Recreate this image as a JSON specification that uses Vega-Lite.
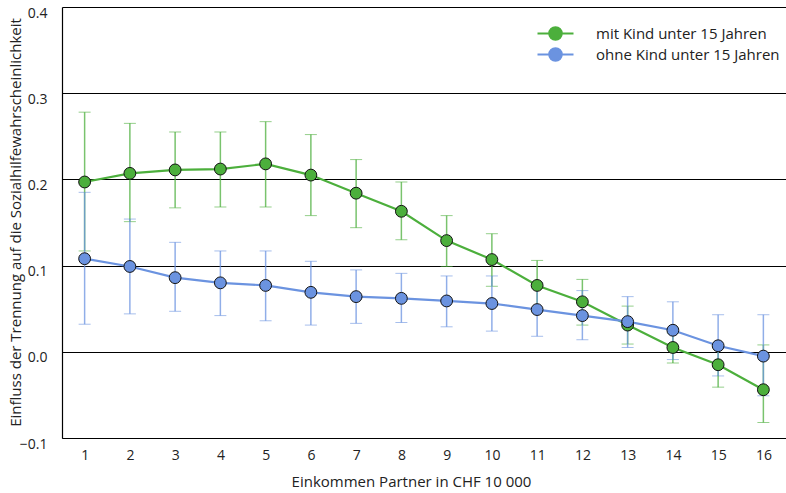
{
  "$schema": "https://vega.github.io/schema/vega-lite/v6.json",
  "width": 724,
  "height": 431,
  "autosize": {"type": "none"},
  "padding": {"left": 62, "top": 7, "right": 0, "bottom": 55},
  "background": "white",
  "config": {
    "font": "Open Sans",
    "view": {"stroke": null},
    "axis": {"labelFont": "Open Sans", "titleFont": "Open Sans", "labelFontSize": 14, "titleFontSize": 15, "labelColor": "#222", "titleColor": "#222", "titleFontWeight": "normal", "ticks": false, "domainColor": "#000", "domainWidth": 1.2}
  },
  "data": {
    "values": [
      {"x": 1, "g": "mit Kind unter 15 Jahren", "lo": 0.117, "y": 0.197, "hi": 0.278},
      {"x": 2, "g": "mit Kind unter 15 Jahren", "lo": 0.151, "y": 0.207, "hi": 0.265},
      {"x": 3, "g": "mit Kind unter 15 Jahren", "lo": 0.167, "y": 0.211, "hi": 0.255},
      {"x": 4, "g": "mit Kind unter 15 Jahren", "lo": 0.168, "y": 0.212, "hi": 0.255},
      {"x": 5, "g": "mit Kind unter 15 Jahren", "lo": 0.168, "y": 0.218, "hi": 0.267},
      {"x": 6, "g": "mit Kind unter 15 Jahren", "lo": 0.158, "y": 0.205, "hi": 0.252},
      {"x": 7, "g": "mit Kind unter 15 Jahren", "lo": 0.144, "y": 0.184, "hi": 0.223},
      {"x": 8, "g": "mit Kind unter 15 Jahren", "lo": 0.130, "y": 0.163, "hi": 0.197},
      {"x": 9, "g": "mit Kind unter 15 Jahren", "lo": 0.099, "y": 0.129, "hi": 0.158},
      {"x": 10, "g": "mit Kind unter 15 Jahren", "lo": 0.076, "y": 0.107, "hi": 0.137},
      {"x": 11, "g": "mit Kind unter 15 Jahren", "lo": 0.047, "y": 0.077, "hi": 0.106},
      {"x": 12, "g": "mit Kind unter 15 Jahren", "lo": 0.031, "y": 0.058, "hi": 0.084},
      {"x": 13, "g": "mit Kind unter 15 Jahren", "lo": 0.009, "y": 0.031, "hi": 0.053},
      {"x": 14, "g": "mit Kind unter 15 Jahren", "lo": -0.013, "y": 0.005, "hi": 0.022},
      {"x": 15, "g": "mit Kind unter 15 Jahren", "lo": -0.041, "y": -0.015, "hi": 0.007},
      {"x": 16, "g": "mit Kind unter 15 Jahren", "lo": -0.082, "y": -0.044, "hi": 0.008},
      {"x": 1, "g": "ohne Kind unter 15 Jahren", "lo": 0.032, "y": 0.108, "hi": 0.185},
      {"x": 2, "g": "ohne Kind unter 15 Jahren", "lo": 0.044, "y": 0.099, "hi": 0.154},
      {"x": 3, "g": "ohne Kind unter 15 Jahren", "lo": 0.047, "y": 0.086, "hi": 0.127},
      {"x": 4, "g": "ohne Kind unter 15 Jahren", "lo": 0.042, "y": 0.080, "hi": 0.117},
      {"x": 5, "g": "ohne Kind unter 15 Jahren", "lo": 0.036, "y": 0.077, "hi": 0.117},
      {"x": 6, "g": "ohne Kind unter 15 Jahren", "lo": 0.031, "y": 0.069, "hi": 0.105},
      {"x": 7, "g": "ohne Kind unter 15 Jahren", "lo": 0.033, "y": 0.064, "hi": 0.095},
      {"x": 8, "g": "ohne Kind unter 15 Jahren", "lo": 0.034, "y": 0.062, "hi": 0.091},
      {"x": 9, "g": "ohne Kind unter 15 Jahren", "lo": 0.029, "y": 0.059, "hi": 0.088},
      {"x": 10, "g": "ohne Kind unter 15 Jahren", "lo": 0.024, "y": 0.056, "hi": 0.088},
      {"x": 11, "g": "ohne Kind unter 15 Jahren", "lo": 0.018, "y": 0.049, "hi": 0.080},
      {"x": 12, "g": "ohne Kind unter 15 Jahren", "lo": 0.014, "y": 0.042, "hi": 0.071},
      {"x": 13, "g": "ohne Kind unter 15 Jahren", "lo": 0.005, "y": 0.035, "hi": 0.064},
      {"x": 14, "g": "ohne Kind unter 15 Jahren", "lo": -0.009, "y": 0.025, "hi": 0.058},
      {"x": 15, "g": "ohne Kind unter 15 Jahren", "lo": -0.028, "y": 0.007, "hi": 0.043},
      {"x": 16, "g": "ohne Kind unter 15 Jahren", "lo": -0.051, "y": -0.005, "hi": 0.043}
    ]
  },
  "encoding": {
    "x": {"field": "x", "type": "quantitative", "scale": {"domain": [0.5, 16.5], "nice": false, "zero": false},
      "axis": {"values": [1,2,3,4,5,6,7,8,9,10,11,12,13,14,15,16], "title": "Einkommen Partner in CHF 10 000", "grid": false, "labelPadding": 10, "titlePadding": 12, "titleX": 349, "format": "d"}},
    "color": {"field": "g", "type": "nominal", "scale": {"domain": ["mit Kind unter 15 Jahren", "ohne Kind unter 15 Jahren"], "range": ["#4caf3c", "#6b93e0"]},
      "legend": {"title": null, "orient": "none", "legendX": 486, "legendY": 19, "padding": 0, "labelFontSize": 15, "labelFont": "Open Sans", "labelColor": "#222", "labelOffset": 33, "labelLimit": 0, "rowPadding": 0, "symbolOpacity": 1,
        "symbolType": "M-3,0L-1.05,0M1.05,0L3,0M1.05,0A1.05,1.05,0,1,1,-1.05,0A1.05,1.05,0,1,1,1.05,0Z", "symbolSize": 144, "symbolStrokeWidth": 2}}
  },
  "layer": [
    {
      "mark": {"type": "errorbar", "ticks": {"size": 12, "opacity": 0.6, "strokeWidth": 1.5}, "rule": {"opacity": 0.75, "strokeWidth": 1.5}},
      "encoding": {
        "y": {"field": "lo", "type": "quantitative", "scale": {"domain": [-0.1, 0.4], "nice": false},
          "axis": {"values": [-0.1, 0, 0.1, 0.2, 0.3, 0.4], "format": ".1f", "title": "Einfluss der Trennung auf die Sozialhilfewahrscheinlichkeit", "grid": true, "gridColor": "#000", "gridOpacity": 1, "gridWidth": 1, "labelPadding": 15, "labelOffset": 6, "titleX": -47, "titleY": 215, "titleBaseline": "middle", "titleAlign": "center", "titleAngle": 270}},
        "y2": {"field": "hi"}
      }
    },
    {
      "mark": {"type": "line", "strokeWidth": 2.2},
      "encoding": {"y": {"field": "y", "type": "quantitative"}}
    },
    {
      "mark": {"type": "point", "filled": true, "size": 140, "opacity": 1, "stroke": "#111", "strokeWidth": 1},
      "encoding": {"y": {"field": "y", "type": "quantitative"}, "fill": {"field": "g", "type": "nominal", "scale": {"domain": ["mit Kind unter 15 Jahren", "ohne Kind unter 15 Jahren"], "range": ["#4caf3c", "#6b93e0"]}, "legend": null}}
    }
  ]
}
